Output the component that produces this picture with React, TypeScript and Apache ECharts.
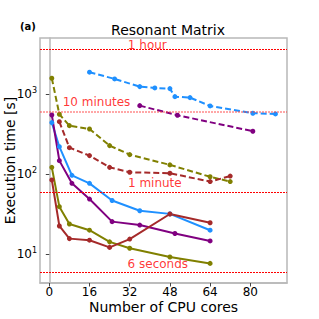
import React, { useEffect, useRef } from "react";
import * as echarts from "echarts";

// ---- data ----
const blueDashedX = [16, 26, 36, 42, 48, 50, 56, 64, 81, 90];
const blueDashedY = [1884, 1553, 1245, 1199, 1175, 933, 907, 714, 579, 567];

const purpleDashedX = [36, 51, 81];
const purpleDashedY = [720, 546, 345];

const oliveDashedX = [1, 4, 8, 16, 24, 32, 48, 64, 72];
const oliveDashedY = [1585, 562, 405, 368, 228, 176, 131, 93, 81];

const brownDashedX = [4, 8, 16, 24, 32, 48, 64, 72];
const brownDashedY = [454, 215, 171, 122, 106, 103, 81, 95];

const blueSolidX = [1, 4, 9, 16, 25, 36, 48, 64];
const blueSolidY = [442, 221, 97, 77, 47, 35, 32, 20];

const purpleSolidX = [1, 4, 9, 16, 25, 36, 50, 64];
const purpleSolidY = [550, 148, 77, 49, 25.6, 23.2, 18.2, 14.7];

const oliveSolidX = [1, 4, 8, 16, 24, 32, 48, 64];
const oliveSolidY = [122, 39.4, 23.9, 20, 14.3, 11.9, 9.25, 7.7];

const brownSolidX = [1, 4, 8, 16, 24, 32, 48, 64];
const brownSolidY = [85, 22.6, 15.7, 15, 12.2, 15.5, 31.9, 24.8];

const xTicks = [0, 16, 32, 48, 64, 80];

const refLineNames = ["1 hour", "10 minutes", "1 minute", "6 seconds"];
const refLineValues = [3600, 600, 60, 6];
const refLabelX = [39, 18.8, 42, 43.2];
const refLabelY = [4120, 802, 77.8, 7.63];

const COLORS = {
  blue: "#1f90ff",
  purple: "#800080",
  olive: "#808000",
  brown: "#a52a2a",
};

const FONT = "DejaVu Sans";

function pairs(xs: number[], ys: number[]) {
  return xs.map((x, i) => [x, ys[i]]);
}

function lineSeries(name: string, xs: number[], ys: number[], color: string, dashed: boolean) {
  return {
    name,
    type: "line",
    data: pairs(xs, ys),
    symbol: "circle",
    symbolSize: 5,
    showSymbol: true,
    itemStyle: { color },
    lineStyle: { color, width: 2, type: dashed ? [6, 3] : "solid" },
    z: 3,
  };
}

export default function App() {
  const ref = useRef<HTMLDivElement>(null);
  useEffect(() => {
    if (!ref.current) return;
    const chart = echarts.init(ref.current, null, { renderer: "svg" });
    const refLineData = refLineValues.map((v, i) => ({
      yAxis: v,
      lineStyle: {
        color: i === 1 ? "rgba(255,60,60,0.45)" : "#ff0000",
        width: i === 1 ? 2 : 1,
        type: [2, 1],
        opacity: 1,
      },
    }));
    chart.setOption({
      animation: false,
      backgroundColor: "#ffffff",
      textStyle: { fontFamily: FONT },
      title: {
        text: "Resonant Matrix",
        left: 163,
        textAlign: "center",
        top: 18,
        textStyle: { fontFamily: FONT, fontSize: 14, fontWeight: "normal", color: "#000" },
      },
      graphic: [
        {
          type: "text",
          left: 20,
          top: 21,
          style: { text: "(a)", font: `bold 10px "${FONT}"`, fill: "#000" },
        },
      ],
      grid: {
        left: 40,
        right: 32,
        top: 38,
        bottom: 36,
        containLabel: false,
        outerBoundsMode: "none",
        show: true,
        borderColor: "#b8b8b8",
        borderWidth: 1.5,
      },
      xAxis: {
        type: "value",
        min: -3.7,
        max: 94.6,
        name: "Number of CPU cores",
        nameLocation: "middle",
        nameGap: 17,
        nameMoveOverlap: false,
        nameTextStyle: { fontFamily: FONT, fontSize: 14, color: "#000" },
        axisLine: { show: true, lineStyle: { color: "#b8b8b8", width: 1.5 } },
        axisTick: { show: true, length: 3.5, customValues: xTicks, lineStyle: { color: "#444" } },
        axisLabel: { customValues: xTicks, fontFamily: FONT, fontSize: 12, color: "#000", margin: 3 },
        splitLine: { show: false },
      },
      yAxis: {
        type: "log",
        logBase: 10,
        min: 4.38,
        max: 5040,
        name: "Execution time [s]",
        nameLocation: "middle",
        nameGap: 23,
        nameMoveOverlap: false,
        nameTextStyle: { fontFamily: FONT, fontSize: 14, color: "#000" },
        axisLine: { show: true, lineStyle: { color: "#b8b8b8", width: 1.5 } },
        axisTick: { show: true, length: 3.5, lineStyle: { color: "#444" } },
        axisLabel: {
          fontFamily: FONT,
          fontSize: 12,
          color: "#000",
          margin: 3,
          showMinLabel: false,
          showMaxLabel: false,
          formatter: (v: number) => {
            const e = Math.log10(v);
            const r = Math.round(e);
            if (Math.abs(e - r) > 1e-6) return "";
            return `10{sup|${r}}`;
          },
          rich: {
            sup: { fontSize: 8, fontFamily: FONT, color: "#000", verticalAlign: "bottom", padding: [0, 0, 7, 0] },
          },
        },
        splitLine: { show: false },
      },
      series: [
        {
          name: "refLines",
          type: "line",
          data: [],
          markLine: {
            silent: true,
            symbol: "none",
            label: { show: false },
            emphasis: { disabled: true },
            data: refLineData,
          },
        },
        {
          name: "refLabels",
          type: "scatter",
          symbolSize: 0,
          silent: true,
          data: refLabelX.map((x, i) => ({ value: [x, refLabelY[i]], name: refLineNames[i] })),
          label: {
            show: true,
            position: "inside",
            formatter: (p: any) => p.name,
            fontFamily: FONT,
            fontSize: 12,
            color: "#ff0000",
          },
          z: 2,
        },
        lineSeries("blue dashed", blueDashedX, blueDashedY, COLORS.blue, true),
        lineSeries("purple dashed", purpleDashedX, purpleDashedY, COLORS.purple, true),
        lineSeries("olive dashed", oliveDashedX, oliveDashedY, COLORS.olive, true),
        lineSeries("brown dashed", brownDashedX, brownDashedY, COLORS.brown, true),
        lineSeries("blue solid", blueSolidX, blueSolidY, COLORS.blue, false),
        lineSeries("purple solid", purpleSolidX, purpleSolidY, COLORS.purple, false),
        lineSeries("olive solid", oliveSolidX, oliveSolidY, COLORS.olive, false),
        lineSeries("brown solid", brownSolidX, brownSolidY, COLORS.brown, false),
      ],
    });
    return () => chart.dispose();
  }, []);
  return <div ref={ref} style={{ width: 319, height: 319, position: "absolute", left: 0, top: 0 }} />;
}
